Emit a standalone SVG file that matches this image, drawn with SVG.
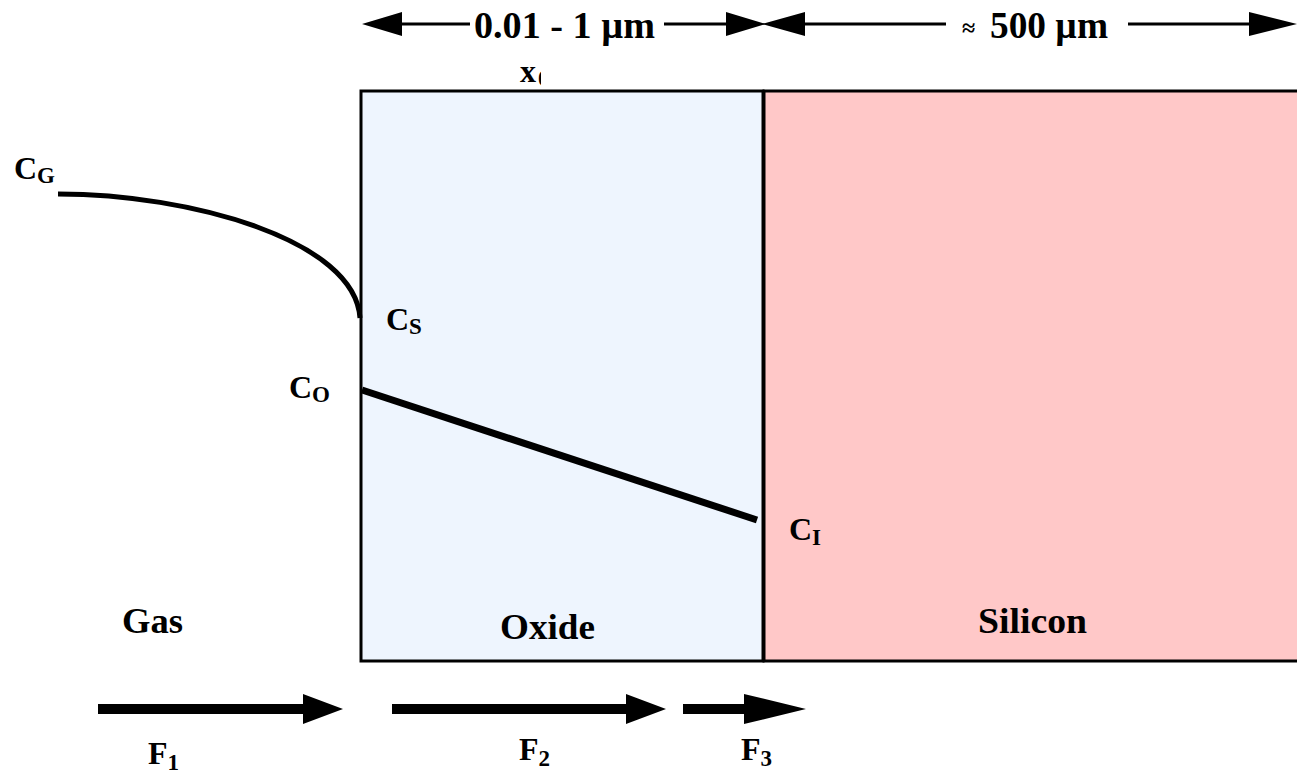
<svg xmlns="http://www.w3.org/2000/svg" width="1297" height="777" viewBox="0 0 1297 777">
<style>
text{font-family:"Liberation Serif","Times New Roman",serif;font-weight:bold;fill:#000}
.lbl{font-size:36px}
.c{font-size:32px}
.sub{font-size:23px}
.dim{font-size:37px}
.thin{stroke:#000;stroke-width:3;fill:none}
.thick{stroke:#000;stroke-width:10;fill:none}
</style>
<defs>
<clipPath id="xclip"><rect x="500" y="50" width="41" height="38"/></clipPath>
</defs>
<rect width="1297" height="777" fill="#fff"/>
<g id="oxide">
<rect x="361" y="91" width="402" height="570" fill="#EEF5FE" stroke="#000" stroke-width="3"/>
<text class="lbl" x="500" y="639" textLength="95" lengthAdjust="spacingAndGlyphs">Oxide</text>
</g>
<g id="silicon">
<rect x="764" y="91" width="540" height="570" fill="#FFC8C8" stroke="#000" stroke-width="3"/>
<text class="lbl" x="978" y="633" textLength="109" lengthAdjust="spacingAndGlyphs">Silicon</text>
</g>
<g id="gas">
<text class="lbl" x="122" y="633" textLength="61" lengthAdjust="spacingAndGlyphs">Gas</text>
</g>
<g id="dimensions">
<path class="thin" d="M395,24 H470 M664,24 H728"/>
<path d="M362,24 L402,12 L402,36 Z M766,24 L726,12 L726,36 Z"/>
<text class="dim" x="474" y="38" textLength="181" lengthAdjust="spacingAndGlyphs">0.01 - 1 µm</text>
<path class="thin" d="M800,24 H946 M1128,24 H1260"/>
<path d="M762,24 L805,12 L805,36 Z M1297,24 L1249,12 L1249,36 Z"/>
<text x="962" y="36" font-size="24">≈</text>
<text class="dim" x="990" y="38" textLength="118" lengthAdjust="spacingAndGlyphs">500 µm</text>
<g clip-path="url(#xclip)"><text class="c" x="520" y="82" font-size="34">x<tspan class="sub" dx="2" dy="4">0</tspan></text></g>
</g>
<g id="profiles">
<path d="M58,194 C190,194 355,240 360,318" stroke="#000" stroke-width="5" fill="none"/>
<path d="M362,390 L757,520" stroke="#000" stroke-width="7" fill="none"/>
</g>
<g id="labels">
<text class="c" x="14" y="179">C<tspan class="sub" dy="4">G</tspan></text>
<text class="c" x="386" y="330">C<tspan class="sub" dy="4">S</tspan></text>
<text class="c" x="289" y="398">C<tspan class="sub" dy="4">O</tspan></text>
<text class="c" x="789" y="540">C<tspan class="sub" dy="5">I</tspan></text>
</g>
<g id="fluxes">
<path class="thick" d="M98,709 H305 M392,709 H630 M683,709 H747"/>
<path d="M343,709 L303,694 L303,724 Z M666,709 L626,694 L626,724 Z M806,709 L744,694 L744,724 Z"/>
<text class="c" x="148" y="764">F<tspan class="sub" dy="6">1</tspan></text>
<text class="c" x="519" y="760">F<tspan class="sub" dy="6">2</tspan></text>
<text class="c" x="741" y="760">F<tspan class="sub" dy="6">3</tspan></text>
</g>
</svg>
